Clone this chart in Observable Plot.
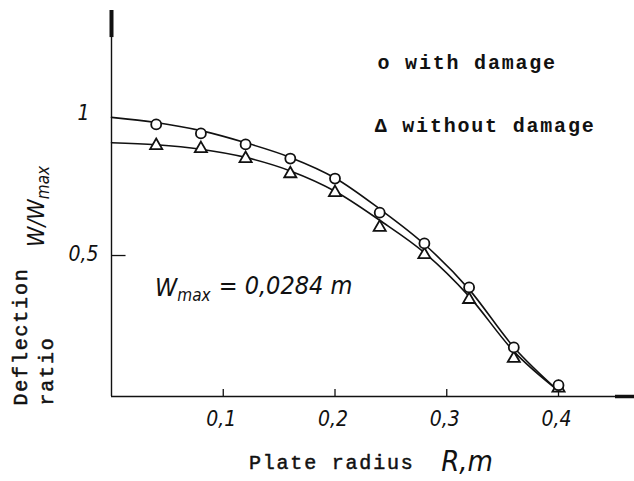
<!DOCTYPE html>
<html>
<head>
<meta charset="utf-8">
<script src="https://cdn.jsdelivr.net/npm/d3@7"></script>
<script src="https://cdn.jsdelivr.net/npm/@observablehq/plot@0.6"></script>
<style>
  html, body { margin: 0; padding: 0; background: #fff; }
  svg { display: block; }
</style>
</head>
<body>
<div id="chart"></div>
<script>
// Plate radius R (m) where measurements were taken
const radius = [0.04, 0.08, 0.12, 0.16, 0.20, 0.24, 0.28, 0.32, 0.36, 0.40];
// Deflection ratio W/Wmax, measured points
const withDamage = [0.965, 0.933, 0.894, 0.844, 0.773, 0.652, 0.543, 0.387, 0.174, 0.04];
const withoutDamage = [0.89, 0.879, 0.844, 0.79, 0.723, 0.60, 0.503, 0.344, 0.135, 0.03];
// Smooth fitted curves
const curveR = [0, 0.04, 0.08, 0.12, 0.16, 0.20, 0.24, 0.28, 0.32, 0.36, 0.40];
const curveWith = [0.99, 0.972, 0.943, 0.9, 0.848, 0.775, 0.665, 0.54, 0.38, 0.175, 0.02];
const curveWithout = [0.9, 0.893, 0.877, 0.848, 0.8, 0.728, 0.625, 0.51, 0.355, 0.16, 0.02];
// Tick labels
const xTicks = [0.1, 0.2, 0.3, 0.4];
const yTicks = [0.5, 1];
const yTickMarks = [0.5];
const fmt = d => String(d).replace(".", ",");

const series = (name, ys) => radius.map((r, i) => ({r, w: ys[i], name}));
const curve = (name, ys) => curveR.map((r, i) => ({r, w: ys[i], name}));

const hand = "'DejaVu Sans Condensed', 'DejaVu Sans', sans-serif";
const mono = "'Liberation Mono', 'DejaVu Sans Mono', monospace";
const typed = {fontSize: 20, fontFamily: mono, fill: "#111", stroke: "#111", strokeWidth: 0.5, textAnchor: "start"};

const chart = Plot.plot({
  width: 634,
  height: 481,
  marginLeft: 111,
  marginRight: 0,
  marginTop: 10,
  marginBottom: 85,
  x: {domain: [0, 0.468], axis: null},
  y: {domain: [0, 1.369], axis: null},
  style: {background: "#fff", color: "#111", overflow: "visible"},
  marks: [
    // axes
    Plot.ruleY([0], {x1: 0, x2: 0.468, stroke: "#111", strokeWidth: 1.4}),
    Plot.ruleX([0], {y1: 0, y2: 1.369, stroke: "#111", strokeWidth: 1.4}),
    Plot.ruleX([0], {y1: 1.273, y2: 1.369, stroke: "#111", strokeWidth: 4}),
    Plot.ruleY([0], {x1: 0.451, x2: 0.468, stroke: "#111", strokeWidth: 3.5}),
    // inward ticks
    Plot.ruleX(xTicks, {x: d => d, y1: 0, y2: 0.025, stroke: "#111", strokeWidth: 1.3}),
    Plot.ruleY(yTickMarks, {y: d => d, x1: 0, x2: 0.013, stroke: "#111", strokeWidth: 1.3}),
    // tick labels
    Plot.text(xTicks, {x: d => d, y: 0, dy: 23, dx: -2, text: fmt, fontSize: 21, fontStyle: "italic", fontFamily: hand}),
    Plot.text(yTicks, {x: 0, y: d => d, dx: -28, dy: -1, text: fmt, fontSize: 21, fontStyle: "italic", fontFamily: hand}),
    // curves
    Plot.line(curve("with", curveWith), {x: "r", y: "w", curve: "monotone-x", stroke: "#111", strokeWidth: 1.6}),
    Plot.line(curve("without", curveWithout), {x: "r", y: "w", curve: "monotone-x", stroke: "#111", strokeWidth: 1.6}),
    // points
    Plot.dot(series("without", withoutDamage), {x: "r", y: "w", symbol: "triangle", r: 4.5, stroke: "#111", fill: "#fff", strokeWidth: 1.8}),
    Plot.dot(series("with", withDamage), {x: "r", y: "w", symbol: "circle", r: 5, stroke: "#111", fill: "#fff", strokeWidth: 1.8}),
    // legend
    Plot.text(["o with damage"], {x: 0.238, y: 1.184, text: d => d, textAnchor: "start", fontSize: 20, fontWeight: "bold", fontFamily: mono}),
    Plot.text(["\u0394 without damage"], {x: 0.2355, y: 0.96, text: d => d, textAnchor: "start", fontSize: 20, fontWeight: "bold", fontFamily: mono}),
    // axis titles
    Plot.text(["Deflection"], {...typed, x: -0.0814, y: -0.032, text: d => d, rotate: -90}),
    Plot.text(["ratio"], {...typed, x: -0.058, y: -0.032, text: d => d, rotate: -90}),
    Plot.text(["W/W"], {x: -0.067, y: 0.53, text: d => d, rotate: -90, textAnchor: "start", fontSize: 23, fontStyle: "italic", fontFamily: hand}),
    Plot.text(["Plate radius"], {...typed, x: 0.123, y: -0.234, text: d => d}),
    Plot.text(["R,m"], {x: 0.295, y: -0.23, text: d => d, textAnchor: "start", fontSize: 29, fontStyle: "italic", fontFamily: hand}),
    // annotation
    Plot.text(["W"], {x: 0.039, y: 0.385, text: d => d, textAnchor: "start", fontSize: 25, fontStyle: "italic", fontFamily: hand})
  ]
});

const svg = d3.select(chart);
const texts = svg.selectAll("text");
texts.filter(function() { return /damage|Deflection|ratio|Plate/.test(this.textContent); })
  .style("letter-spacing", "1.8px");
// subscripts
texts.filter(function() { return this.textContent === "W/W"; })
  .append("tspan").attr("font-size", 17).attr("dy", "0.3em").text("max");
const wm = texts.filter(function() { return this.textContent === "W"; });
wm.append("tspan").attr("font-size", 17).attr("dy", "0.3em").text("max");
wm.append("tspan").attr("dy", "-0.3em").attr("dx", "8").text("= 0,0284 m");

document.getElementById("chart").append(chart);
</script>
</body>
</html>
